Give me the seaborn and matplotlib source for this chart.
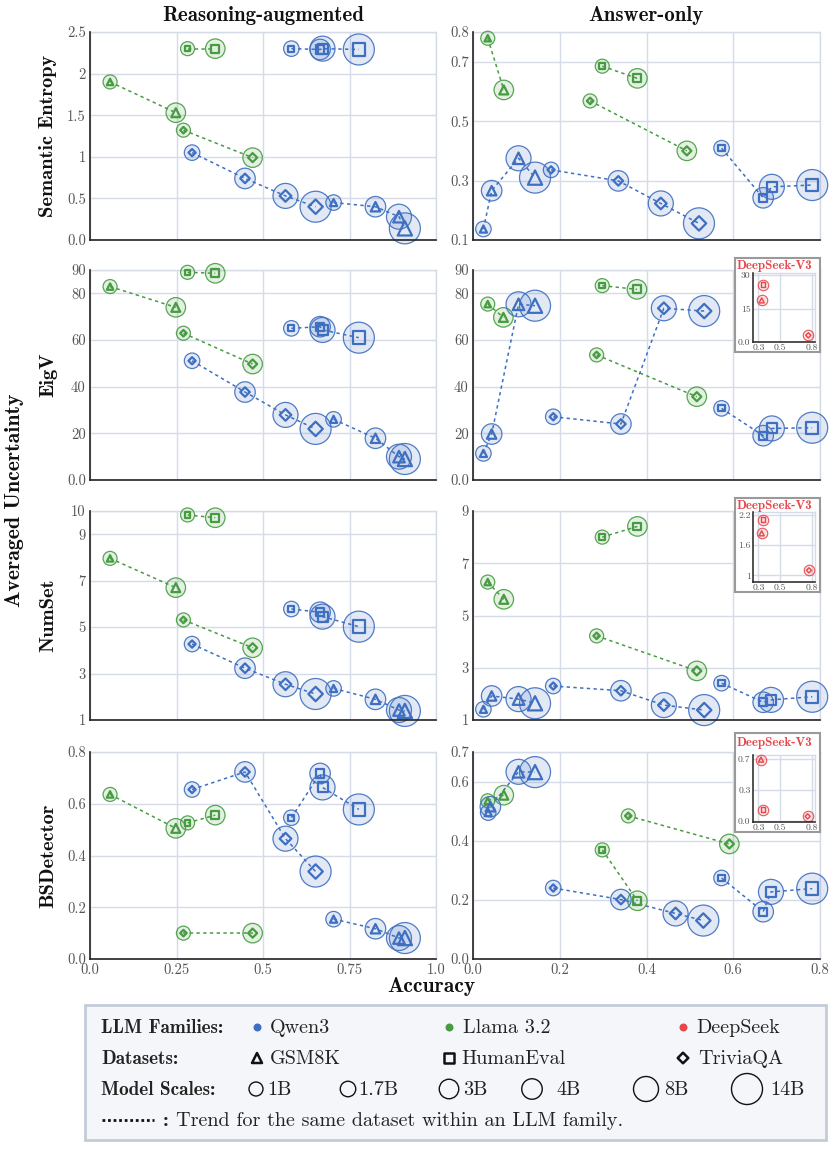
import numpy as np
import matplotlib
matplotlib.use("Agg")
import matplotlib.pyplot as plt
from matplotlib.colors import to_rgba
from matplotlib.patches import Rectangle
import seaborn as sns

# ---------------- data ----------------
DATASETS = ["GSM8K", "HumanEval", "TriviaQA"]
MARKERS = ["^", "s", "D"]
QWEN_SCALES = ["1.7B", "4B", "8B", "14B"]
LLAMA_SCALES = ["1B", "3B"]
SCALE_LABELS = ["1B", "1.7B", "3B", "4B", "8B", "14B"]
METRICS = ["Semantic Entropy", "EigV", "NumSet", "BSDetector"]
MODES = ["Reasoning-augmented", "Answer-only"]
FAMILIES = ["Qwen3", "Llama 3.2", "DeepSeek"]

# Reasoning-augmented accuracy (lists: GSM8K, HumanEval, TriviaQA)
R_QWEN_X = [[0.704, 0.825, 0.893, 0.910], [0.582, 0.665, 0.672, 0.777], [0.295, 0.448, 0.565, 0.652]]
R_LLAMA_X = [[0.058, 0.248], [0.282, 0.362], [0.270, 0.470]]

# Reasoning-augmented uncertainty
SE_R_QWEN_Y = [[0.45, 0.40, 0.28, 0.14], [2.30, 2.29, 2.30, 2.29], [1.05, 0.74, 0.53, 0.40]]
SE_R_LLAMA_Y = [[1.90, 1.53], [2.30, 2.30], [1.32, 0.99]]
EIGV_R_QWEN_Y = [[26.0, 17.9, 10.0, 9.0], [65.0, 65.7, 64.3, 61.0], [51.1, 37.7, 27.9, 21.9]]
EIGV_R_LLAMA_Y = [[82.9, 74.0], [89.0, 88.6], [62.9, 49.7]]
NUM_R_QWEN_Y = [[2.36, 1.89, 1.43, 1.39], [5.78, 5.64, 5.45, 5.02], [4.27, 3.23, 2.54, 2.12]]
NUM_R_LLAMA_Y = [[7.96, 6.70], [9.83, 9.71], [5.31, 4.11]]
BSD_R_QWEN_Y = [[0.154, 0.117, 0.081, 0.081], [0.546, 0.717, 0.663, 0.578], [0.655, 0.723, 0.465, 0.338]]
BSD_R_LLAMA_Y = [[0.636, 0.505], [0.526, 0.556], [0.100, 0.100]]

# Answer-only accuracy and uncertainty
SE_A_QWEN_X = [[0.024, 0.043, 0.105, 0.143], [0.573, 0.669, 0.689, 0.782], [0.180, 0.335, 0.433, 0.521]]
SE_A_QWEN_Y = [[0.137, 0.266, 0.375, 0.310], [0.409, 0.242, 0.279, 0.285], [0.336, 0.299, 0.223, 0.156]]
SE_A_LLAMA_X = [[0.034, 0.071], [0.298, 0.379], [0.270, 0.493]]
SE_A_LLAMA_Y = [[0.779, 0.605], [0.685, 0.644], [0.568, 0.400]]

EIGV_A_QWEN_X = [[0.024, 0.043, 0.105, 0.143], [0.573, 0.669, 0.689, 0.782], [0.185, 0.341, 0.440, 0.533]]
EIGV_A_QWEN_Y = [[11.4, 19.7, 75.3, 74.7], [30.7, 19.0, 22.1, 22.4], [27.1, 24.0, 73.6, 72.4]]
EIGV_A_LLAMA_X = [[0.034, 0.070], [0.298, 0.378], [0.285, 0.516]]
EIGV_A_LLAMA_Y = [[75.4, 69.7], [83.3, 81.7], [53.6, 35.7]]

NUM_A_QWEN_X = [[0.024, 0.043, 0.105, 0.143], [0.573, 0.669, 0.687, 0.782], [0.185, 0.341, 0.440, 0.533]]
NUM_A_QWEN_Y = [[1.41, 1.92, 1.80, 1.64], [2.41, 1.68, 1.77, 1.89], [2.30, 2.12, 1.57, 1.38]]
NUM_A_LLAMA_X = [[0.034, 0.071], [0.298, 0.379], [0.285, 0.516]]
NUM_A_LLAMA_Y = [[6.28, 5.62], [8.00, 8.41], [4.22, 2.88]]

BSD_A_QWEN_X = [[0.035, 0.040, 0.105, 0.143], [0.573, 0.669, 0.687, 0.782], [0.185, 0.341, 0.467, 0.531]]
BSD_A_QWEN_Y = [[0.495, 0.515, 0.633, 0.632], [0.274, 0.160, 0.227, 0.238], [0.240, 0.201, 0.154, 0.130]]
BSD_A_LLAMA_X = [[0.034, 0.071], [0.298, 0.379], [0.358, 0.591]]
BSD_A_LLAMA_Y = [[0.535, 0.554], [0.369, 0.197], [0.484, 0.389]]

# DeepSeek-V3 insets (GSM8K, HumanEval, TriviaQA)
DS_EIGV_X = [0.331, 0.341, 0.763]
DS_EIGV_Y = [18.7, 25.8, 3.0]
DS_NUM_X = [0.331, 0.341, 0.769]
DS_NUM_Y = [1.83, 2.10, 1.10]
DS_BSD_X = [0.325, 0.341, 0.757]
DS_BSD_Y = [0.689, 0.128, 0.053]

# ticks
R_XTICKS = [0.0, 0.25, 0.5, 0.75, 1.0]
R_XTICKLABELS = ["0.0", "0.25", "0.5", "0.75", "1.0"]
A_XTICKS = [0.0, 0.2, 0.4, 0.6, 0.8]
A_XTICKLABELS = ["0.0", "0.2", "0.4", "0.6", "0.8"]
R_YTICKS = [[0, 0.5, 1, 1.5, 2, 2.5], [0, 20, 40, 60, 80, 90], [1, 3, 5, 7, 9, 10], [0, 0.2, 0.4, 0.6, 0.8]]
R_YTICKLABELS = [["0.0", "0.5", "1", "1.5", "2", "2.5"], ["0.0", "20", "40", "60", "80", "90"],
                 ["1", "3", "5", "7", "9", "10"], ["0.0", "0.2", "0.4", "0.6", "0.8"]]
A_YTICKS = [[0.1, 0.3, 0.5, 0.7, 0.8], [0, 20, 40, 60, 80, 90], [1, 3, 5, 7, 9], [0, 0.2, 0.4, 0.6, 0.7]]
A_YTICKLABELS = [["0.1", "0.3", "0.5", "0.7", "0.8"], ["0.0", "20", "40", "60", "80", "90"],
                 ["1", "3", "5", "7", "9"], ["0.0", "0.2", "0.4", "0.6", "0.7"]]
DS_XTICKS = [0.3, 0.5, 0.8]
DS_XTICKLABELS = ["0.3", "0.5", "0.8"]
DS_YTICKS = [[0, 15, 30], [1, 1.6, 2.2], [0, 0.35, 0.7]]
DS_YTICKLABELS = [["0.0", "15", "30"], ["1", "1.6", "2.2"], ["0.0", "0.3", "0.7"]]

# ---------------- style ----------------
sns.set_theme(style="whitegrid")
plt.rcParams["font.family"] = ["cmr10", "DejaVu Serif"]
plt.rcParams["axes.unicode_minus"] = False
plt.rcParams["mathtext.fontset"] = "cm"
BOLD = ["cmb10", "DejaVu Serif"]

BLUE = "#3e6fc0"
GREEN = "#479c42"
RED = "#e5474b"
FAM_COLORS = [BLUE, GREEN, RED]
GRID = "#d5dbe7"
SPINE = "#222222"
TICKC = "#555555"
CIRCLE_PX = {"1B": 14, "1.7B": 15.5, "3B": 19.5, "4B": 20.5, "8B": 25, "14B": 31}
INNER_FACTOR = {"^": 0.46, "s": 0.40, "D": 0.33}
PT = 0.72  # points per pixel at dpi 100

W, H = 835, 1149
fig = plt.figure(figsize=(W / 100, H / 100), dpi=100)
fig.patch.set_facecolor("white")


def add_axes_px(x0, y0, x1, y1, z=1):
    return fig.add_axes([x0 / W, 1 - y1 / H, (x1 - x0) / W, (y1 - y0) / H], zorder=z)


def style_axes(ax, spine_lw=1.2, labelsize=10.5):
    ax.set_facecolor("white")
    ax.grid(True, color=GRID, lw=1.0)
    ax.set_axisbelow(True)
    for s in ["top", "right"]:
        ax.spines[s].set_visible(True)
        ax.spines[s].set_color(GRID)
        ax.spines[s].set_linewidth(1.0)
    for s in ["left", "bottom"]:
        ax.spines[s].set_visible(True)
        ax.spines[s].set_color(SPINE)
        ax.spines[s].set_linewidth(spine_lw)
        ax.spines[s].set_zorder(5)
    ax.tick_params(length=0, labelsize=labelsize, labelcolor=TICKC, pad=3)
    ax.set_xlabel("")
    ax.set_ylabel("")


def draw_series(ax, xs, ys, scales, color, marker, inner_lw=1.6):
    cd = np.array([CIRCLE_PX[s] for s in scales])
    if len(xs) > 1:
        sns.lineplot(x=xs, y=ys, ax=ax, sort=False, estimator=None, color=color,
                     lw=1.1, linestyle=(0, (2.2, 2.2)), zorder=2, legend=False)
    sns.scatterplot(x=xs, y=ys, ax=ax, s=(cd * PT) ** 2, marker="o", color=color,
                    facecolor=to_rgba(color, 0.15), edgecolor=to_rgba(color, 0.9),
                    linewidth=0.9, zorder=3, clip_on=False, legend=False)
    sns.scatterplot(x=xs, y=ys, ax=ax, s=(cd * INNER_FACTOR[marker] * PT) ** 2, marker=marker,
                    color=color, facecolor="none", edgecolor=color, linewidth=inner_lw,
                    zorder=4, clip_on=False, legend=False)


ROW_PX = [(32, 240), (270, 480), (511, 720), (752, 959)]
COL_PX = [(90, 436), (473, 820)]

R_QWEN_Y = [SE_R_QWEN_Y, EIGV_R_QWEN_Y, NUM_R_QWEN_Y, BSD_R_QWEN_Y]
R_LLAMA_Y = [SE_R_LLAMA_Y, EIGV_R_LLAMA_Y, NUM_R_LLAMA_Y, BSD_R_LLAMA_Y]
A_QWEN_X = [SE_A_QWEN_X, EIGV_A_QWEN_X, NUM_A_QWEN_X, BSD_A_QWEN_X]
A_QWEN_Y = [SE_A_QWEN_Y, EIGV_A_QWEN_Y, NUM_A_QWEN_Y, BSD_A_QWEN_Y]
A_LLAMA_X = [SE_A_LLAMA_X, EIGV_A_LLAMA_X, NUM_A_LLAMA_X, BSD_A_LLAMA_X]
A_LLAMA_Y = [SE_A_LLAMA_Y, EIGV_A_LLAMA_Y, NUM_A_LLAMA_Y, BSD_A_LLAMA_Y]

for r in range(4):
    y0, y1 = ROW_PX[r]
    for c in range(2):
        x0, x1 = COL_PX[c]
        ax = add_axes_px(x0, y0, x1, y1, z=1)
        if c == 0:
            qx, qy = R_QWEN_X, R_QWEN_Y[r]
            lx, ly = R_LLAMA_X, R_LLAMA_Y[r]
            xt, xtl = R_XTICKS, R_XTICKLABELS
            yt, ytl = R_YTICKS[r], R_YTICKLABELS[r]
        else:
            qx, qy = A_QWEN_X[r], A_QWEN_Y[r]
            lx, ly = A_LLAMA_X[r], A_LLAMA_Y[r]
            xt, xtl = A_XTICKS, A_XTICKLABELS
            yt, ytl = A_YTICKS[r], A_YTICKLABELS[r]
        for d in range(3):
            draw_series(ax, lx[d], ly[d], LLAMA_SCALES, GREEN, MARKERS[d])
        for d in range(3):
            draw_series(ax, qx[d], qy[d], QWEN_SCALES, BLUE, MARKERS[d])
        ax.set_xlim(min(xt), max(xt))
        ax.set_ylim(min(yt), max(yt))
        ax.set_xticks(xt)
        ax.set_yticks(yt)
        ax.set_yticklabels(ytl)
        if r == 3:
            ax.set_xticklabels(xtl)
        else:
            ax.set_xticklabels([])
        style_axes(ax)

# ---------------- DeepSeek-V3 insets ----------------
INSET_PX = [(258, 352, 273, 342), (498, 592, 512, 582), (733, 832, 755, 822)]
DS_X = [DS_EIGV_X, DS_NUM_X, DS_BSD_X]
DS_Y = [DS_EIGV_Y, DS_NUM_Y, DS_BSD_Y]
DS_YLIM = [(0, 31), (0.87, 2.25), (-0.01, 0.74)]
inset_title_y = []
for i in range(3):
    bt, bb, at, ab = INSET_PX[i]
    rect = Rectangle((735 / W, 1 - bb / H), 85 / W, (bb - bt) / H, transform=fig.transFigure,
                     facecolor="white", edgecolor="#9a9a9a", lw=1.5, zorder=2)
    fig.patches.append(rect)
    iax = add_axes_px(752.7, at, 815, ab, z=3)
    for d in range(3):
        sns.scatterplot(x=[DS_X[i][d]], y=[DS_Y[i][d]], ax=iax, s=(10.5 * PT) ** 2, marker="o",
                        color=RED, facecolor=to_rgba(RED, 0.15), edgecolor=to_rgba(RED, 0.9),
                        linewidth=0.8, zorder=3, clip_on=False, legend=False)
        sns.scatterplot(x=[DS_X[i][d]], y=[DS_Y[i][d]], ax=iax,
                        s=(10.5 * INNER_FACTOR[MARKERS[d]] * 1.05 * PT) ** 2, marker=MARKERS[d],
                        color=RED, facecolor="none", edgecolor=RED, linewidth=1.0,
                        zorder=4, clip_on=False, legend=False)
    iax.set_xlim(0.248, 0.825)
    iax.set_ylim(*DS_YLIM[i])
    iax.set_xticks(DS_XTICKS)
    iax.set_xticklabels(DS_XTICKLABELS)
    iax.set_yticks(DS_YTICKS[i])
    iax.set_yticklabels(DS_YTICKLABELS[i])
    style_axes(iax, spine_lw=1.1, labelsize=7)
    iax.tick_params(pad=1.5)
    inset_title_y.append(bt + (13 if i == 2 else 11))

# ---------------- overlay (texts + legend) ----------------
lax = fig.add_axes([0, 0, 1, 1], zorder=10)
lax.set_xlim(0, W)
lax.set_ylim(H, 0)
lax.axis("off")

for i, ty in enumerate(inset_title_y):
    lax.text(736.5, ty, "DeepSeek-V3", color=RED, fontsize=9.3, family=BOLD, ha="left", va="baseline")

TITLE_FS = 15
lax.text(263, 21, MODES[0], fontsize=TITLE_FS, family=BOLD, ha="center", va="baseline", color="#111111")
lax.text(646, 21, MODES[1], fontsize=TITLE_FS, family=BOLD, ha="center", va="baseline", color="#111111")
for r in range(4):
    yc = (ROW_PX[r][0] + ROW_PX[r][1]) / 2
    lax.text(48, yc, METRICS[r], fontsize=14.7, family=BOLD, rotation=90, ha="center", va="center",
             color="#111111")
lax.text(15, 500, "Averaged Uncertainty", fontsize=15.7, family=BOLD, rotation=90, ha="center",
         va="center", color="#111111")
lax.text(431, 987, "Accuracy", fontsize=15.5, family=BOLD, ha="center", va="center", color="#111111")

# legend box
lax.add_patch(Rectangle((85, 1005), 741, 135, facecolor="#f4f6f9", edgecolor="#c3ccd9", lw=2, zorder=1))
ROWS_Y = [1027, 1058, 1089, 1120]
LAB_FS = 13.8
ITEM_FS = 14.5
TXT = "#222222"
lax.text(101, ROWS_Y[0] + 6, "LLM Families:", fontsize=LAB_FS, family=BOLD, ha="left", va="baseline", color=TXT)
lax.text(101, ROWS_Y[1] + 6, "Datasets:", fontsize=LAB_FS, family=BOLD, ha="left", va="baseline", color=TXT)
lax.text(101, ROWS_Y[2] + 6, "Model Scales:", fontsize=LAB_FS, family=BOLD, ha="left", va="baseline", color=TXT)

fam_x = [257, 449, 683]
fam_tx = [270, 463, 696]
for i in range(3):
    sns.scatterplot(x=[fam_x[i]], y=[ROWS_Y[0]], ax=lax, s=(8 * PT) ** 2, marker="o",
                    color=FAM_COLORS[i], edgecolor=FAM_COLORS[i], linewidth=0, zorder=3,
                    clip_on=False, legend=False)
    lax.text(fam_tx[i], ROWS_Y[0] + 6, FAMILIES[i], fontsize=ITEM_FS, ha="left", va="baseline", color=TXT)

ds_x = [257, 449, 683]
ds_tx = [270, 461, 698]
ds_sz = [10, 10, 7.5]
for i in range(3):
    sns.scatterplot(x=[ds_x[i]], y=[ROWS_Y[1]], ax=lax, s=(ds_sz[i] * PT) ** 2, marker=MARKERS[i],
                    color="#111111", facecolor="none", edgecolor="#111111", linewidth=1.8,
                    zorder=3, clip_on=False, legend=False)
    lax.text(ds_tx[i], ROWS_Y[1] + 6, DATASETS[i], fontsize=ITEM_FS, ha="left", va="baseline", color=TXT)

sc_x = [256, 348, 449, 532, 646, 747]
sc_tx = [267, 358, 463, 556, 664, 770]
for i, lab in enumerate(SCALE_LABELS):
    sns.scatterplot(x=[sc_x[i]], y=[ROWS_Y[2]], ax=lax, s=(CIRCLE_PX[lab] * PT) ** 2, marker="o",
                    color="#111111", facecolor="none", edgecolor="#111111", linewidth=1.0,
                    zorder=3, clip_on=False, legend=False)
    lax.text(sc_tx[i], ROWS_Y[2] + 6, lab, fontsize=ITEM_FS, ha="left", va="baseline", color=TXT)

sns.lineplot(x=[102, 154], y=[ROWS_Y[3], ROWS_Y[3]], ax=lax, color="#111111", lw=2.0,
             linestyle=(0, (1, 1)), legend=False)
lax.text(163, ROWS_Y[3] + 6, ":", fontsize=ITEM_FS, family=BOLD, ha="left", va="baseline", color=TXT)
lax.text(176, ROWS_Y[3] + 6, "Trend for the same dataset within an LLM family.", fontsize=ITEM_FS,
         ha="left", va="baseline", color=TXT)
lax.set_xlim(0, W)
lax.set_ylim(H, 0)
lax.axis("off")

fig.savefig("out.png", dpi=100, facecolor="white")
